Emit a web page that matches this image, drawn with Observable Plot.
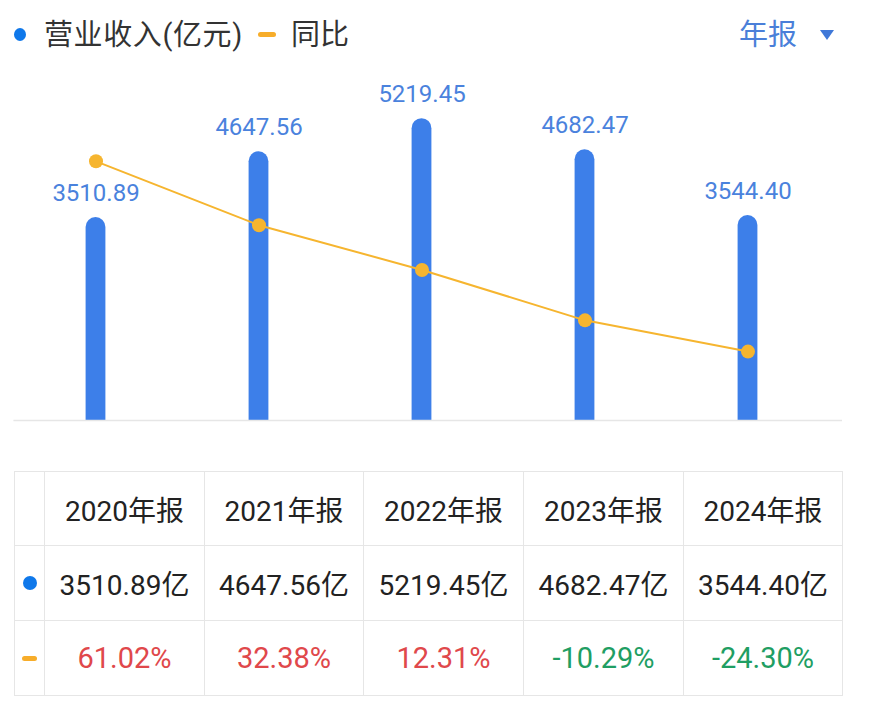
<!DOCTYPE html>
<html>
<head>
<meta charset="utf-8">
<script src="https://cdn.jsdelivr.net/npm/d3@7"></script>
<script src="https://cdn.jsdelivr.net/npm/@observablehq/plot@0.6"></script>
<style>
  html, body { margin: 0; padding: 0; background: #fff; }
  body { font-family: Roboto, "Noto Sans CJK SC", sans-serif; }
  #page { position: relative; width: 883px; height: 720px; overflow: hidden; }
  .abs { position: absolute; }
  #legend { top: 0; left: 0; width: 883px; height: 66px; }
  .lg-text { position: absolute; top: 15px; height: 40px; line-height: 40px; font-size: 29px; color: #333; white-space: nowrap; }
  #chart { top: 60px; left: 0; width: 883px; height: 380px; }
  #chart svg { position: absolute; left: 0; top: 0; }
  table { position: absolute; left: 14px; top: 471px; border-collapse: collapse; table-layout: fixed; width: 828px; }
  td { border: 1.5px solid #e6e6e6; text-align: center; padding: 0; font-size: 28px; color: #222; white-space: nowrap; overflow: hidden; }
  tr.h td { height: 73px; }
  tr.r td { height: 74px; }
  tr.p td { font-size: 29px; }
</style>
</head>
<body>
<div id="page">
  <div id="legend" class="abs"></div>
  <div id="chart" class="abs"></div>
  <table id="tbl"></table>
</div>
<script>
// ---- data ----
const years = ["2020年报", "2021年报", "2022年报", "2023年报", "2024年报"];
const revenue = [3510.89, 4647.56, 5219.45, 4682.47, 3544.40];
const yoy = [61.02, 32.38, 12.31, -10.29, -24.30];
const legendLabels = ["营业收入(亿元)", "同比"];
const periodLabel = "年报";

const barColor = "#3d7fe9";
const lineColor = "#f6b52f";

const data = years.map((y, i) => ({year: y, rev: revenue[i], yoy: yoy[i]}));

// ---- legend ----
const legend = document.getElementById("legend");
legend.innerHTML = `
  <div class="abs" style="left:14px;top:28px;width:12px;height:13px;border-radius:50%;background:#0f78ea"></div>
  <div class="lg-text" style="left:44px;letter-spacing:0.6px">${legendLabels[0]}</div>
  <div class="abs" style="left:258px;top:32px;width:18px;height:5px;border-radius:3px;background:#f7ad2a"></div>
  <div class="lg-text" style="left:291px">${legendLabels[1]}</div>
  <div class="lg-text" style="left:739px;color:#4a7fd9">${periodLabel}</div>
  <svg class="abs" style="left:819px;top:29px" width="16" height="12"><path d="M1,1 L15,1 L8,11 Z" fill="#3f78d8"/></svg>
`;

// ---- chart ----
const common = {
  width: 883,
  height: 380,
  marginLeft: 13.4,
  marginRight: 53.4,
  marginTop: 13,
  marginBottom: 20,
  x: {type: "band", domain: years, padding: 0, axis: null},
  style: {background: "transparent", fontFamily: "Roboto, 'Noto Sans CJK SC', sans-serif"}
};

const barPlot = Plot.plot({
  ...common,
  y: {domain: [0, 6000], axis: null},
  marks: [
    Plot.barY(data, {x: "year", y: "rev", fill: barColor, insetLeft: 71.6, insetRight: 71.6, insetBottom: -12, rx: 10, clip: true}),
    Plot.ruleY([0], {stroke: "#e6e6e6", strokeWidth: 1.5, insetRight: -12.4}),
    Plot.text(data, {x: "year", y: "rev", text: d => d.rev.toFixed(2), dy: -24, fill: "#4a82dd", fontSize: 24})
  ]
});

const linePlot = Plot.plot({
  ...common,
  y: {domain: [-55.2, 100.4], axis: null},
  marks: [
    Plot.line(data, {x: "year", y: "yoy", stroke: lineColor, strokeWidth: 2}),
    Plot.dot(data, {x: "year", y: "yoy", r: 7, fill: lineColor})
  ]
});

const chart = document.getElementById("chart");
chart.appendChild(barPlot);
chart.appendChild(linePlot);

// ---- table ----
const tbl = document.getElementById("tbl");
const colWidths = [30, 160, 159, 160, 160, 159];
let html = "<colgroup>" + colWidths.map(w => `<col style="width:${w}px">`).join("") + "</colgroup>";
html += `<tr class="h"><td></td>${years.map(y => `<td>${y}</td>`).join("")}</tr>`;
html += `<tr class="r"><td><div style="width:14px;height:14px;border-radius:50%;background:#0f78ea;margin:0 auto"></div></td>${revenue.map(v => `<td>${v.toFixed(2)}亿</td>`).join("")}</tr>`;
html += `<tr class="r p"><td><div style="width:15px;height:5px;border-radius:3px;background:#f7ad2a;margin:0 auto"></div></td>${yoy.map(v => `<td style="color:${v >= 0 ? "#e0484b" : "#1f9e63"}">${v.toFixed(2)}%</td>`).join("")}</tr>`;
tbl.innerHTML = html;
</script>
</body>
</html>
